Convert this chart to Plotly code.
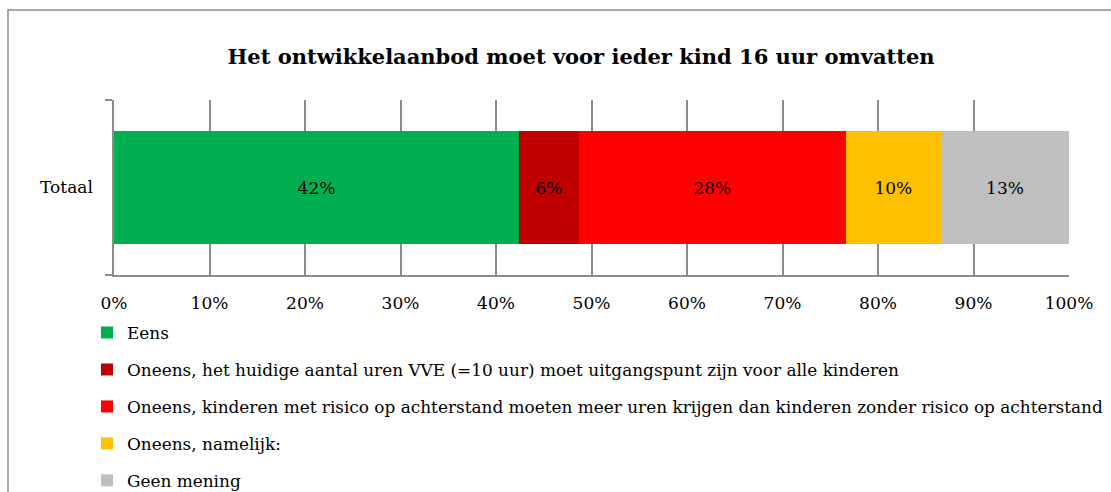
import plotly.graph_objects as go

# Data
category = ["Totaal"]
series_names = [
    "Eens",
    "Oneens, het huidige aantal uren VVE (=10 uur) moet uitgangspunt zijn voor alle kinderen",
    "Oneens, kinderen met risico op achterstand moeten meer uren krijgen dan kinderen zonder risico op achterstand",
    "Oneens, namelijk:",
    "Geen mening",
]
series_values = [42.4, 6.3, 27.9, 10.0, 13.4]
series_colors = ["#00B050", "#C00000", "#FF0000", "#FFC000", "#BFBFBF"]
x_ticks = [0, 10, 20, 30, 40, 50, 60, 70, 80, 90, 100]
x_tick_labels = ["0%", "10%", "20%", "30%", "40%", "50%", "60%", "70%", "80%", "90%", "100%"]
title_text = "Het ontwikkelaanbod moet voor ieder kind 16 uur omvatten"

FONT = "DejaVu Serif"
W, H = 1111, 492
ML, MR, MT, MB = 114, 42, 100, 217
PW = W - ML - MR
PH = H - MT - MB

fig = go.Figure()
for i, (name, val, col) in enumerate(zip(series_names, series_values, series_colors)):
    fig.add_trace(go.Bar(
        y=category, x=[val], name=name, orientation="h",
        marker=dict(color=col, line=dict(width=0)),
        texttemplate="%{x:.0f}%", textposition="inside", insidetextanchor="middle",
        textfont=dict(family=FONT, size=17, color="black"),
        legendgroup=f"g{i}", hoverinfo="skip",
    ))

def px_x(p):
    return (p - ML) / PW

def px_y(p):
    return (H - MB - p) / PH

fig.update_layout(
    width=W, height=H,
    barmode="stack", bargap=0.355,
    plot_bgcolor="white", paper_bgcolor="white",
    margin=dict(l=ML, r=MR, t=MT, b=MB, autoexpand=False),
    font=dict(family=FONT, size=17, color="black"),
    title=dict(text="<b>" + title_text + "</b>", x=581 / W, xref="container", xanchor="center",
               y=1 - 57 / H, yref="container", yanchor="middle",
               font=dict(family=FONT, size=21, color="black")),
    showlegend=True,
    legend=dict(orientation="v", x=px_x(87), xanchor="left", y=px_y(315), yanchor="top",
                font=dict(family=FONT, size=16.9, color="black"),
                tracegroupgap=12, bgcolor="rgba(0,0,0,0)"),
    xaxis=dict(range=[0, 100], tickmode="array", tickvals=x_ticks, ticktext=x_tick_labels,
               showgrid=True, gridcolor="#8c8c8c", gridwidth=1.5, zeroline=False, showline=True,
               linecolor="#8c8c8c", linewidth=1.5, ticks="", ticklabelstandoff=12,
               tickfont=dict(family=FONT, size=17, color="black"), fixedrange=True),
    yaxis=dict(type="category", tickson="boundaries", ticks="outside", ticklen=7,
               tickcolor="#8c8c8c", tickwidth=1.5, showline=True, linecolor="#8c8c8c",
               linewidth=1.5, showgrid=False, zeroline=False, ticklabelstandoff=16,
               tickfont=dict(family=FONT, size=17, color="black"), fixedrange=True),
    shapes=[dict(type="rect", xref="paper", yref="paper",
                 x0=px_x(8), x1=px_x(1130), y0=px_y(10), y1=px_y(520),
                 line=dict(color="#8c8c8c", width=1.5), fillcolor="rgba(0,0,0,0)", layer="below")],
)

fig.write_html("out.html", config={"displayModeBar": False},
               post_script="document.body.style.margin='0';")
